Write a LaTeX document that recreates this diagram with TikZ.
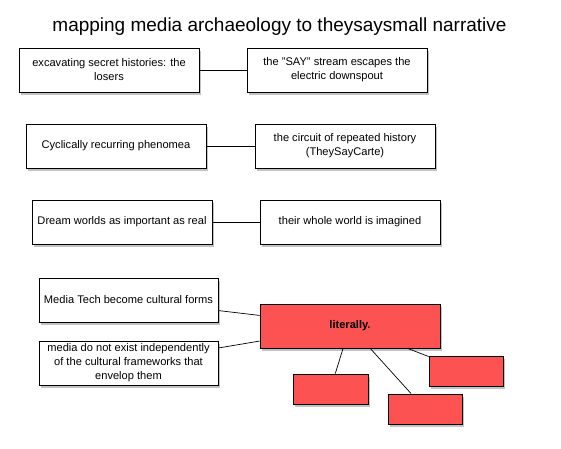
\documentclass[tikz,border=0pt]{standalone}
\usepackage{fontspec}
\setmainfont{Liberation Sans}
\usetikzlibrary{shadows}
\definecolor{boxred}{RGB}{252,82,82}
\begin{document}
\begin{tikzpicture}[x=1pt,y=-1pt,
  box/.style={draw=black, line width=0.8pt, fill=white, inner sep=0pt,
    minimum width=180pt, minimum height=44pt, align=center,
    font=\fontsize{11.1}{14}\selectfont,
    drop shadow={shadow xshift=1.5pt, shadow yshift=-2.5pt, opacity=0.4, fill=black!60}},
  redbox/.style={box, fill=boxred},
  small/.style={redbox, minimum width=75pt, minimum height=30pt},
  link/.style={draw=black, line width=0.7pt}]
\useasboundingbox (0,0) rectangle (561,448);
\node[font=\fontsize{19}{22}\selectfont] (title) at (279.5,27) {mapping media archaeology to theysaysmall narrative};
\node[box] (a1) at (109,70) {excavating secret histories: the\\losers};
\node[box] (a2) at (337,70) {the "SAY" stream escapes the\\electric downspout};
\node[box] (b1) at (116,146) {Cyclically recurring phenomea};
\node[box] (b2) at (345,146) {the circuit of repeated history\\(TheySayCarte)};
\node[box] (c1) at (122,222) {Dream worlds as important as real};
\node[box] (c2) at (350,222) {their whole world is imagined};
\node[box, minimum width=179pt] (d1) at (128.5,300) {Media Tech become cultural forms};
\node[box, minimum width=179pt] (d2) at (128.5,363) {media do not exist independently\\of the cultural frameworks that\\envelop them};
\node[redbox, font=\fontsize{11.1}{14}\selectfont\bfseries] (lit) at (350,326) {literally.};
\node[small] (r1) at (330.5,389) {};
\node[small, minimum width=74pt] (r2) at (425,409) {};
\node[small, minimum width=74pt] (r3) at (466,371) {};
\draw[link] (a1) -- (a2);
\draw[link] (b1) -- (b2);
\draw[link] (c1) -- (c2);
\draw[link] (d1) -- (lit);
\draw[link] (d2) -- (lit);
\draw[link] (lit) -- (r1);
\draw[link] (lit) -- (r2);
\draw[link] (lit) -- (r3);
\end{tikzpicture}
\end{document}
